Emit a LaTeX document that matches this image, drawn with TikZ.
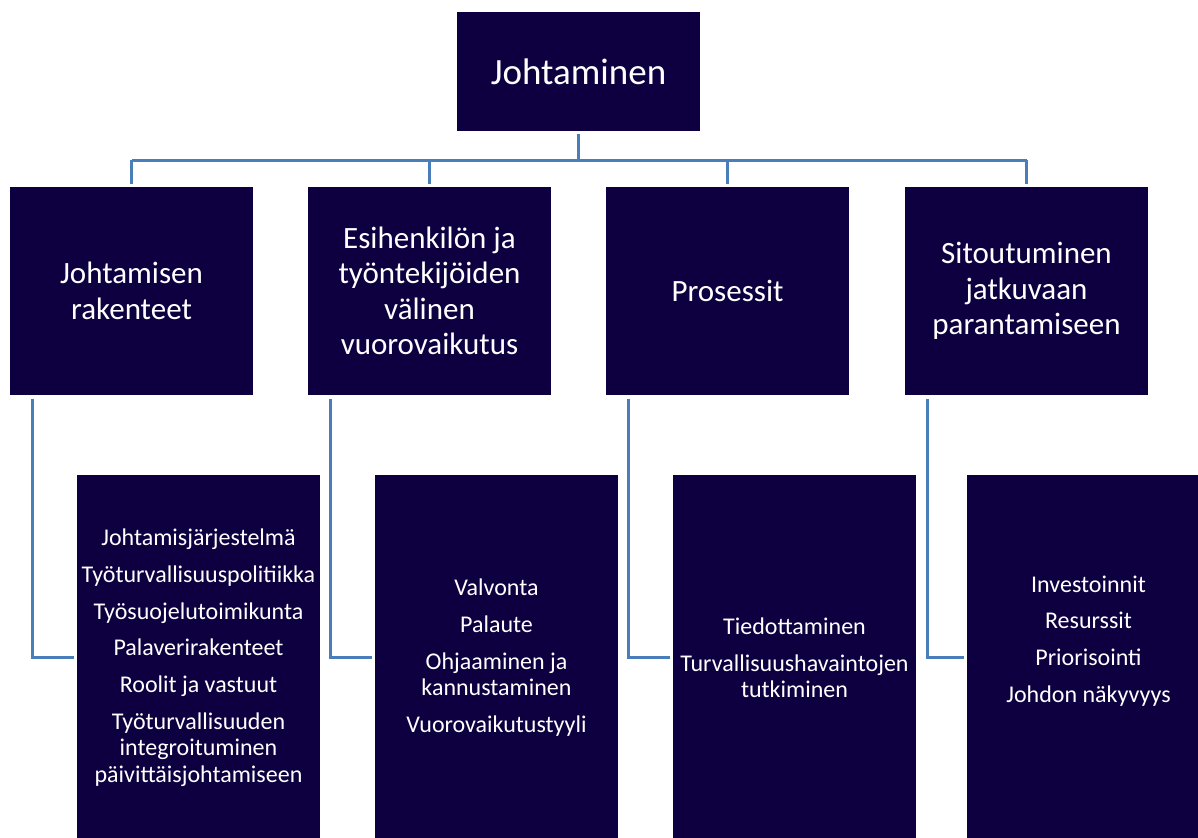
\documentclass[tikz,border=0pt]{standalone}
\usepackage{fontspec}
\setmainfont{Carlito}
\definecolor{boxnavy}{RGB}{14,0,64}
\definecolor{connblue}{RGB}{74,126,187}
\begin{document}
\begin{tikzpicture}[x=1pt,y=-1pt,
  box/.style={fill=boxnavy, draw=none, text=white, align=center, inner sep=0pt, minimum width=243pt},
  topbox/.style={box, minimum height=119pt, font=\fontsize{37}{44}\selectfont},
  midbox/.style={box, minimum height=208pt, font=\fontsize{31}{35.5}\selectfont},
  lowbox/.style={box, minimum height=365pt, font=\fontsize{24}{26.3}\selectfont},
  conn/.style={draw=connblue, line width=3pt}]
\useasboundingbox (0,0) rectangle (1198,837);
% top
\node[topbox] (top) at (578.5,71.5) {Johtaminen};
% level 2
\node[midbox] (b1) at (131.5,291) {Johtamisen\\rakenteet};
\node[midbox] (b2) at (429.5,291) {Esihenkilön ja\\työntekijöiden\\välinen\\vuorovaikutus};
\node[midbox] (b3) at (727.5,291) {Prosessit};
\node[midbox] (b4) at (1026.5,291) {Sitoutuminen\\jatkuvaan\\parantamiseen};
% level 3
\node[lowbox] (c1) at (198.5,657.5) {Johtamisjärjestelmä\\[10.5pt]Työturvallisuuspolitiikka\\[10.5pt]Työsuojelutoimikunta\\[10.5pt]Palaverirakenteet\\[10.5pt]Roolit ja vastuut\\[10.5pt]Työturvallisuuden\\integroituminen\\päivittäisjohtamiseen};
\node[lowbox] (c2) at (496.5,657.5) {Valvonta\\[10.5pt]Palaute\\[10.5pt]Ohjaaminen ja\\kannustaminen\\[10.5pt]Vuorovaikutustyyli};
\node[lowbox] (c3) at (794.5,657.5) {Tiedottaminen\\[10.5pt]Turvallisuushavaintojen\\tutkiminen};
\node[lowbox] (c4) at (1088.5,657.5) {Investoinnit\\[10.5pt]Resurssit\\[10.5pt]Priorisointi\\[10.5pt]Johdon näkyvyys\\[10.5pt]\mbox{}};
% top connectors
\draw[conn] ([yshift=-3pt]top.south) -- ++(0,26) coordinate (hub);
\draw[conn] (hub -| b1.north) -- (hub -| b4.north);
\foreach \b in {b1,b2,b3,b4}{
  \draw[conn] (hub -| \b.north) -- ([yshift=3pt]\b.north);
}
% elbow connectors
\draw[conn] ([xshift=23pt,yshift=-4pt]b1.south west) |- ([xshift=-3pt]c1.west);
\draw[conn] ([xshift=23pt,yshift=-4pt]b2.south west) |- ([xshift=-3pt]c2.west);
\draw[conn] ([xshift=23pt,yshift=-4pt]b3.south west) |- ([xshift=-3pt]c3.west);
\draw[conn] ([xshift=23pt,yshift=-4pt]b4.south west) |- ([xshift=-3pt]c4.west);
\end{tikzpicture}
\end{document}
